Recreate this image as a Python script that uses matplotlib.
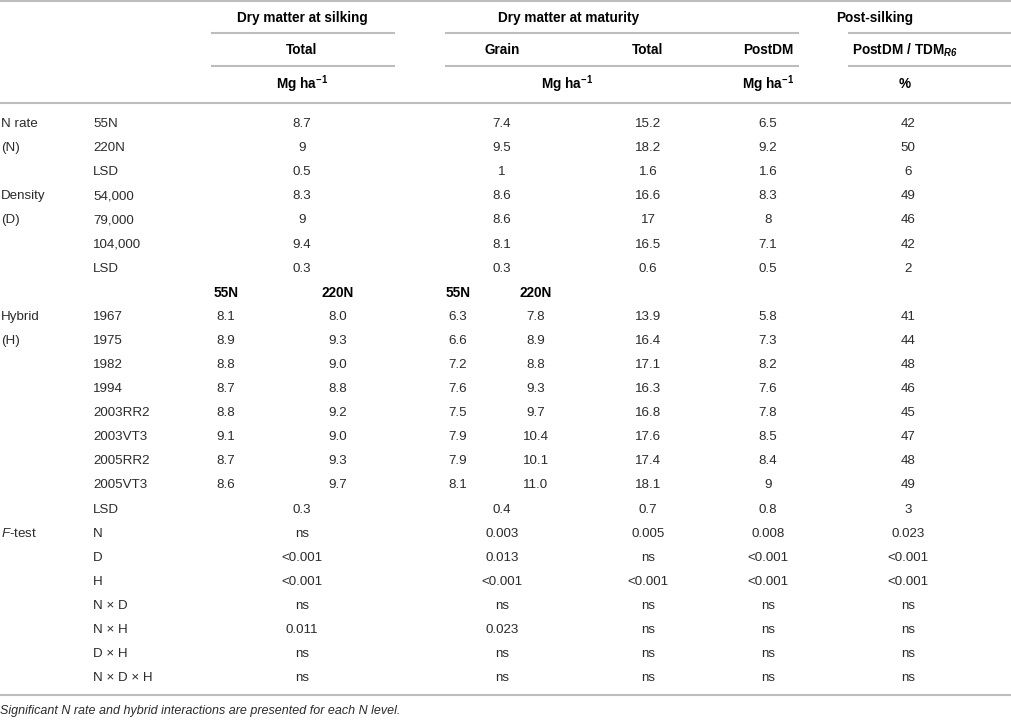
import matplotlib
matplotlib.use('Agg')
import matplotlib.pyplot as plt

plt.rcParams['font.family'] = ['Liberation Sans', 'DejaVu Sans']
plt.rcParams['mathtext.fontset'] = 'custom'
plt.rcParams['mathtext.rm'] = 'Liberation Sans'
plt.rcParams['mathtext.bf'] = 'Liberation Sans:bold'
plt.rcParams['mathtext.it'] = 'Liberation Sans:italic'
plt.rcParams['mathtext.bfit'] = 'Liberation Sans:bold:italic'

# ---------------- data ----------------
nrate_levels = ['55N', '220N', 'LSD']
nrate_silk = ['8.7', '9', '0.5']
nrate_grain = ['7.4', '9.5', '1']
nrate_total = ['15.2', '18.2', '1.6']
nrate_postdm = ['6.5', '9.2', '1.6']
nrate_pct = ['42', '50', '6']

density_levels = ['54,000', '79,000', '104,000', 'LSD']
density_silk = ['8.3', '9', '9.4', '0.3']
density_grain = ['8.6', '8.6', '8.1', '0.3']
density_total = ['16.6', '17', '16.5', '0.6']
density_postdm = ['8.3', '8', '7.1', '0.5']
density_pct = ['49', '46', '42', '2']

hybrid_levels = ['1967', '1975', '1982', '1994', '2003RR2', '2003VT3', '2005RR2', '2005VT3']
hybrid_silk_55 = ['8.1', '8.9', '8.8', '8.7', '8.8', '9.1', '8.7', '8.6']
hybrid_silk_220 = ['8.0', '9.3', '9.0', '8.8', '9.2', '9.0', '9.3', '9.7']
hybrid_grain_55 = ['6.3', '6.6', '7.2', '7.6', '7.5', '7.9', '7.9', '8.1']
hybrid_grain_220 = ['7.8', '8.9', '8.8', '9.3', '9.7', '10.4', '10.1', '11.0']
hybrid_total = ['13.9', '16.4', '17.1', '16.3', '16.8', '17.6', '17.4', '18.1']
hybrid_postdm = ['5.8', '7.3', '8.2', '7.6', '7.8', '8.5', '8.4', '9']
hybrid_pct = ['41', '44', '48', '46', '45', '47', '48', '49']
hybrid_lsd = ['0.3', '0.4', '0.7', '0.8', '3']
nlevel_labels = ['55N', '220N']

ftest_terms = ['N', 'D', 'H', 'N × D', 'N × H', 'D × H', 'N × D × H']
ftest_silk = ['ns', '<0.001', '<0.001', 'ns', '0.011', 'ns', 'ns']
ftest_grain = ['0.003', '0.013', '<0.001', 'ns', '0.023', 'ns', 'ns']
ftest_total = ['0.005', 'ns', '<0.001', 'ns', 'ns', 'ns', 'ns']
ftest_postdm = ['0.008', '<0.001', '<0.001', 'ns', 'ns', 'ns', 'ns']
ftest_pct = ['0.023', '<0.001', '<0.001', 'ns', 'ns', 'ns', 'ns']

footnote = 'Significant N rate and hybrid interactions are presented for each N level.'

# ---------------- layout ----------------
W, H = 1012, 720
fig = plt.figure(figsize=(W / 100, H / 100), dpi=100)
ax = fig.add_axes([0, 0, 1, 1])
ax.set_xlim(0, W)
ax.set_ylim(H, 0)
ax.axis('off')

DATA_FS = 9.6
HEAD_FS = 9.8
TXT = '#2b2b2b'
LINE = '#bdbdbd'
LW = 1.5

X_LAB = 1
X_LEV = 93
X_SILK = 302
X_SILK55, X_SILK220 = 226, 338
X_GRAIN = 502
X_GRAIN55, X_GRAIN220 = 458, 536
X_TOTAL = 648
X_POST = 768
X_PCT = 908

ROW0 = 124
DY = 24.1


def ry(i):
    return ROW0 + i * DY


def t(x, y, s, ha='center', bold=False, color=TXT, fs=None, **kw):
    ax.text(x, y, s, ha=ha, va='center', fontsize=fs or (HEAD_FS if bold else DATA_FS),
            fontweight='bold' if bold else 'normal', color=color, **kw)


def hline(y, x0, x1):
    ax.plot([x0, x1], [y, y], color=LINE, lw=LW, solid_capstyle='butt')


# header lines
hline(1, 0, W)
hline(33, 211, 395)
hline(33, 445, 799)
hline(33, 848, W)
hline(66, 211, 395)
hline(66, 445, 799)
hline(66, 848, W)
hline(103, 0, W)

# header text
t(302, 18, 'Dry matter at silking', bold=True, color='black')
t(569, 18, 'Dry matter at maturity', bold=True, color='black')
t(875, 18, 'Post-silking', bold=True, color='black')
t(302, 50, 'Total', bold=True, color='black')
t(X_GRAIN, 50, 'Grain', bold=True, color='black')
t(X_TOTAL, 50, 'Total', bold=True, color='black')
t(X_POST, 50, 'PostDM', bold=True, color='black')
t(905, 50, r'$\mathbf{PostDM\ /\ TDM}_{\mathbfit{R6}}$', bold=True, color='black')
mg = r'$\mathbf{Mg\ ha}^{\mathbf{-1}}$'
t(302, 84, mg, bold=True, color='black')
t(567, 84, mg, bold=True, color='black')
t(X_POST, 84, mg, bold=True, color='black')
t(905, 84, '%', bold=True, color='black')

# N rate block
t(X_LAB, ry(0), 'N rate', ha='left')
t(X_LAB, ry(1), '(N)', ha='left')
for i, lev in enumerate(nrate_levels):
    r = ry(i)
    t(X_LEV, r, lev, ha='left')
    t(X_SILK, r, nrate_silk[i])
    t(X_GRAIN, r, nrate_grain[i])
    t(X_TOTAL, r, nrate_total[i])
    t(X_POST, r, nrate_postdm[i])
    t(X_PCT, r, nrate_pct[i])

# Density block
t(X_LAB, ry(3), 'Density', ha='left')
t(X_LAB, ry(4), '(D)', ha='left')
for i, lev in enumerate(density_levels):
    r = ry(3 + i)
    t(X_LEV, r, lev, ha='left')
    t(X_SILK, r, density_silk[i])
    t(X_GRAIN, r, density_grain[i])
    t(X_TOTAL, r, density_total[i])
    t(X_POST, r, density_postdm[i])
    t(X_PCT, r, density_pct[i])

# N level sub-header
t(X_SILK55, ry(7), nlevel_labels[0], bold=True, color='black')
t(X_SILK220, ry(7), nlevel_labels[1], bold=True, color='black')
t(X_GRAIN55, ry(7), nlevel_labels[0], bold=True, color='black')
t(X_GRAIN220, ry(7), nlevel_labels[1], bold=True, color='black')

# Hybrid block
t(X_LAB, ry(8), 'Hybrid', ha='left')
t(X_LAB, ry(9), '(H)', ha='left')
for i, lev in enumerate(hybrid_levels):
    r = ry(8 + i)
    t(X_LEV, r, lev, ha='left')
    t(X_SILK55, r, hybrid_silk_55[i])
    t(X_SILK220, r, hybrid_silk_220[i])
    t(X_GRAIN55, r, hybrid_grain_55[i])
    t(X_GRAIN220, r, hybrid_grain_220[i])
    t(X_TOTAL, r, hybrid_total[i])
    t(X_POST, r, hybrid_postdm[i])
    t(X_PCT, r, hybrid_pct[i])
r = ry(16)
t(X_LEV, r, 'LSD', ha='left')
for x, v in zip([X_SILK, X_GRAIN, X_TOTAL, X_POST, X_PCT], hybrid_lsd):
    t(x, r, v)

# F-test block
t(X_LAB, ry(17), r'$\mathit{F}$-test', ha='left')
for i, term in enumerate(ftest_terms):
    r = ry(17 + i)
    t(X_LEV, r, term, ha='left')
    t(X_SILK, r, ftest_silk[i])
    t(X_GRAIN, r, ftest_grain[i])
    t(X_TOTAL, r, ftest_total[i])
    t(X_POST, r, ftest_postdm[i])
    t(X_PCT, r, ftest_pct[i])

hline(695, 0, W)
t(0, 711, footnote, ha='left', fs=9, style='italic')

fig.savefig('out.png', dpi=100)
